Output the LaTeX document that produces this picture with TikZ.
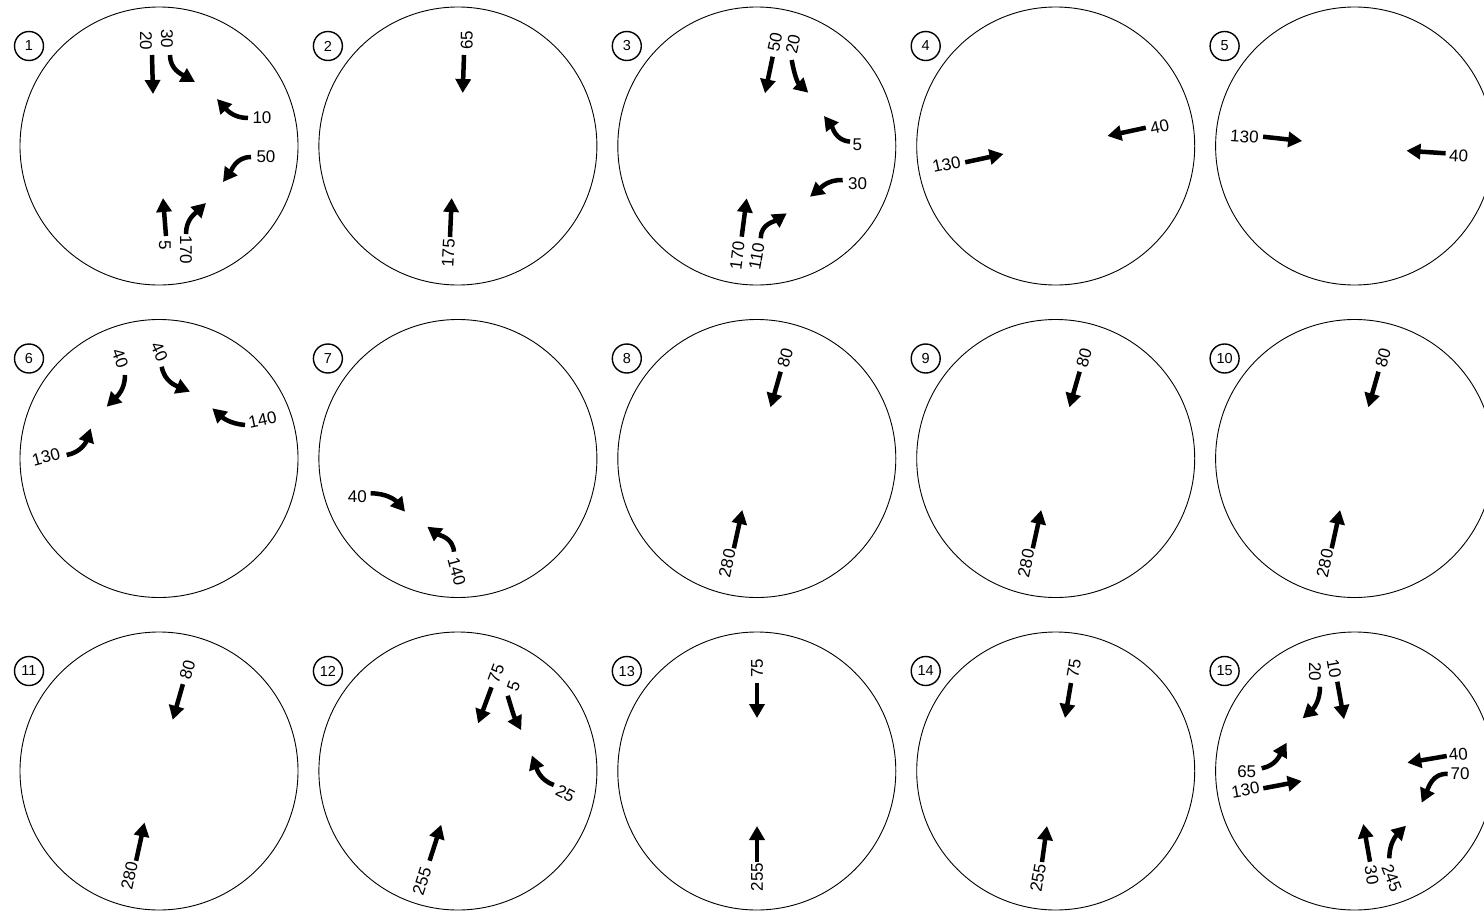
\documentclass[tikz,border=0pt]{standalone}
\usepackage{fontspec}
\setmainfont{Liberation Sans}
\usetikzlibrary{arrows.meta}
\tikzset{
  ring/.style={draw, line width=0.9pt, circle, minimum size=278pt, inner sep=0pt},
  tag/.style={draw, line width=1.4pt, circle, minimum size=29pt, inner sep=0pt, font=\fontsize{14.5}{14.5}\selectfont},
  lbl/.style={inner sep=0pt, font=\fontsize{17}{17}\selectfont},
  arr/.style={line width=4.5pt, -{Triangle[length=14pt,width=15pt]}},
}
\begin{document}
\begin{tikzpicture}[x=1pt,y=-1pt]
\useasboundingbox (0,0) rectangle (1484,916);
\clip (0,0) rectangle (1484,916);
% ---------- circle 1
\node[ring] (c1) at (159,146) {};
\node[tag] (t1) at (29,46) {1};
\node[lbl,rotate=-90] (l1a) at (146,41) {20};
\draw[arr] (152,55) -- (153,94);
\node[lbl,rotate=-90] (l1b) at (167,39) {30};
\draw[arr] (170,55) .. controls (170,69.7) and (182.2,74.6) .. (195,82);
\node[lbl] (l1c) at (262,118) {10};
\draw[arr] (248,118) .. controls (233.5,118) and (226.7,109.8) .. (217,99);
\node[lbl] (l1d) at (266,157) {50};
\draw[arr] (251,157) .. controls (236,157) and (231.8,169.9) .. (223,182);
\node[lbl,rotate=-90] (l1e) at (165,245) {5};
\draw[arr] (166,236) -- (163,198);
\node[lbl,rotate=-90] (l1f) at (186,250) {170};
\draw[arr] (186,234) .. controls (186,219.2) and (195.3,213.3) .. (206,203);
% ---------- circle 2
\node[ring] (c2) at (457.9,146) {};
\node[tag] (t2) at (327.9,46) {2};
\node[lbl,rotate=90] (l2a) at (466.7,40) {65};
\draw[arr] (464,55) -- (462.7,93);
\node[lbl,rotate=87] (l2b) at (448.3,253) {175};
\draw[arr] (450,237) -- (451.7,198);
% ---------- circle 3
\node[ring] (c3) at (756.8,146) {};
\node[tag] (t3) at (626.8,46) {3};
\node[lbl,rotate=78] (l3a) at (775,42) {50};
\draw[arr] (772.7,56.7) -- (765,93.3);
\node[lbl,rotate=78] (l3b) at (793,44) {20};
\draw[arr] (791.7,60) .. controls (794.2,74.4) and (797.6,82.7) .. (808.3,92.7);
\node[lbl] (l3c) at (857.3,145) {5};
\draw[arr] (850,141.7) .. controls (835.4,140.4) and (832.8,127.7) .. (824,116);
\node[lbl] (l3d) at (857.5,183.3) {30};
\draw[arr] (842.7,180) .. controls (828,179.6) and (821.3,187.3) .. (810,196.7);
\node[lbl,rotate=83] (l3e) at (737.3,255.5) {170};
\draw[arr] (741.7,236.7) -- (746.7,198.3);
\node[lbl,rotate=80] (l3f) at (756.7,256.5) {110};
\draw[arr] (760.7,238.3) .. controls (760.7,223.9) and (774.7,221.4) .. (786.7,213.3);
% ---------- circle 4
\node[ring] (c4) at (1055.7,146) {};
\node[tag] (t4) at (925.7,46) {4};
\node[lbl,rotate=12] (l4a) at (946.6,164.3) {130};
\draw[arr] (965.2,162.3) -- (1003.5,154);
\node[lbl,rotate=12] (l4b) at (1159.6,126.7) {40};
\draw[arr] (1145.8,127.7) -- (1107.4,136);
% ---------- circle 5
\node[ring] (c5) at (1354.6,146) {};
\node[tag] (t5) at (1224.6,46) {5};
\node[lbl,rotate=-4] (l5a) at (1244.5,136.7) {130};
\draw[arr] (1263.1,136.7) -- (1302.2,141);
\node[lbl,rotate=-3] (l5b) at (1458.7,155.7) {40};
\draw[arr] (1445.6,153.3) -- (1406.5,150.7);
% ---------- circle 6
\node[ring] (c6) at (159,458.5) {};
\node[tag] (t6) at (29,358.5) {6};
\node[lbl,rotate=-70] (l6a) at (120,358.3) {40};
\draw[arr] (125,375) .. controls (125,389.6) and (117.1,396.3) .. (106.7,406.7);
\node[lbl,rotate=-65] (l6b) at (159.3,351.7) {40};
\draw[arr] (161.7,366.7) .. controls (164.3,381.5) and (176.1,385.8) .. (190,391.7);
\node[lbl,rotate=12] (l6c) at (262.5,420) {140};
\draw[arr] (245,425) .. controls (230.4,423.7) and (223.2,418.1) .. (212.3,408.3);
\node[lbl,rotate=15] (l6d) at (46,456.7) {130};
\draw[arr] (66.7,455) .. controls (80.8,452.5) and (86.2,442) .. (90.7,428.3);
% ---------- circle 7
\node[ring] (c7) at (457.9,458.5) {};
\node[tag] (t7) at (327.9,358.5) {7};
\node[lbl] (l7a) at (357.3,496.7) {40};
\draw[arr] (370.7,493.3) .. controls (386.3,493.3) and (395,499.7) .. (405,511.7);
\node[lbl,rotate=-75] (l7b) at (456.7,571.7) {140};
\draw[arr] (454,551.7) .. controls (452.7,537.1) and (439.1,535.3) .. (427.3,526.7);
% ---------- circles 8-11
\foreach \cx/\cy/\n in {756.8/458.5/8, 1055.7/458.5/9, 1354.6/458.5/10, 159/771/11}{
  \begin{scope}[shift={(\cx,\cy)}]
    \node[ring] (c\n) at (0,0) {};
    \node[tag] (t\n) at (-130,-100) {\n};
    \node[lbl,rotate=74] (l\n a) at (28.4,-100.8) {80};
    \draw[arr] (23.9,-86.8) -- (13.7,-51.2);
    \node[lbl,rotate=78] (l\n b) at (-29.7,104.8) {280};
    \draw[arr] (-22.9,89.8) -- (-14.5,51.5);
  \end{scope}
}
% ---------- circle 12
\node[ring] (c12) at (457.9,771) {};
\node[tag] (t12) at (327.9,671) {12};
\node[lbl,rotate=70] (l12a) at (496.2,673.9) {75};
\draw[arr] (491.5,687.3) -- (478.1,723.4);
\node[lbl,rotate=70] (l12b) at (513.5,685.7) {5};
\draw[arr] (507.7,695.8) .. controls (511.5,708.3) and (514,716.6) .. (521.2,730.1);
\node[lbl,rotate=-28] (l12c) at (565.4,793.4) {25};
\draw[arr] (553.8,785) .. controls (540,780) and (536.9,769.2) .. (531.9,755.4);
\node[lbl,rotate=72] (l12d) at (421.9,881) {255};
\draw[arr] (429.6,860.7) -- (441.2,824.7);
% ---------- circle 13
\node[ring] (c13) at (756.8,771) {};
\node[tag] (t13) at (626.8,671) {13};
\node[lbl,rotate=90] (l13a) at (757,668) {75};
\draw[arr] (757,683) -- (757,718);
\node[lbl,rotate=90] (l13b) at (757,877) {255};
\draw[arr] (757,862) -- (757,826);
% ---------- circle 14
\node[ring] (c14) at (1055.7,771) {};
\node[tag] (t14) at (925.7,671) {14};
\node[lbl,rotate=80] (l14a) at (1074,668) {75};
\draw[arr] (1071,683) -- (1065,718);
\node[lbl,rotate=80] (l14b) at (1038,878) {255};
\draw[arr] (1042,862) -- (1047,826);
% ---------- circle 15
\node[ring] (c15) at (1354.6,771) {};
\node[tag] (t15) at (1224.6,671) {15};
\node[lbl,rotate=-80] (l15a) at (1334,668.3) {10};
\draw[arr] (1337.3,681.7) -- (1344,719.3);
\node[lbl,rotate=-90] (l15b) at (1315,671.7) {20};
\draw[arr] (1320,686.7) .. controls (1320,701.1) and (1313.4,708.7) .. (1302.7,718.3);
\node[lbl] (l15c) at (1246.7,771.7) {65};
\draw[arr] (1261.7,768.3) .. controls (1276,765.6) and (1279.8,755) .. (1286.7,742.7);
\node[lbl,rotate=10] (l15d) at (1245.5,790) {130};
\draw[arr] (1263.3,788.3) -- (1301.7,781);
\node[lbl,rotate=5] (l15e) at (1458.3,754.3) {40};
\draw[arr] (1446.7,756) -- (1407.3,762.7);
\node[lbl] (l15f) at (1460,773.3) {70};
\draw[arr] (1447.7,774) .. controls (1432.3,772.6) and (1428.1,788.6) .. (1421.7,802.7);
\node[lbl,rotate=-80] (l15g) at (1371.7,875) {30};
\draw[arr] (1370,861.7) -- (1363.3,824);
\node[lbl,rotate=-69] (l15h) at (1391.7,878.3) {245};
\draw[arr] (1389.3,858.3) .. controls (1389.3,843.7) and (1395.6,836.1) .. (1406,825.7);
\end{tikzpicture}
\end{document}
